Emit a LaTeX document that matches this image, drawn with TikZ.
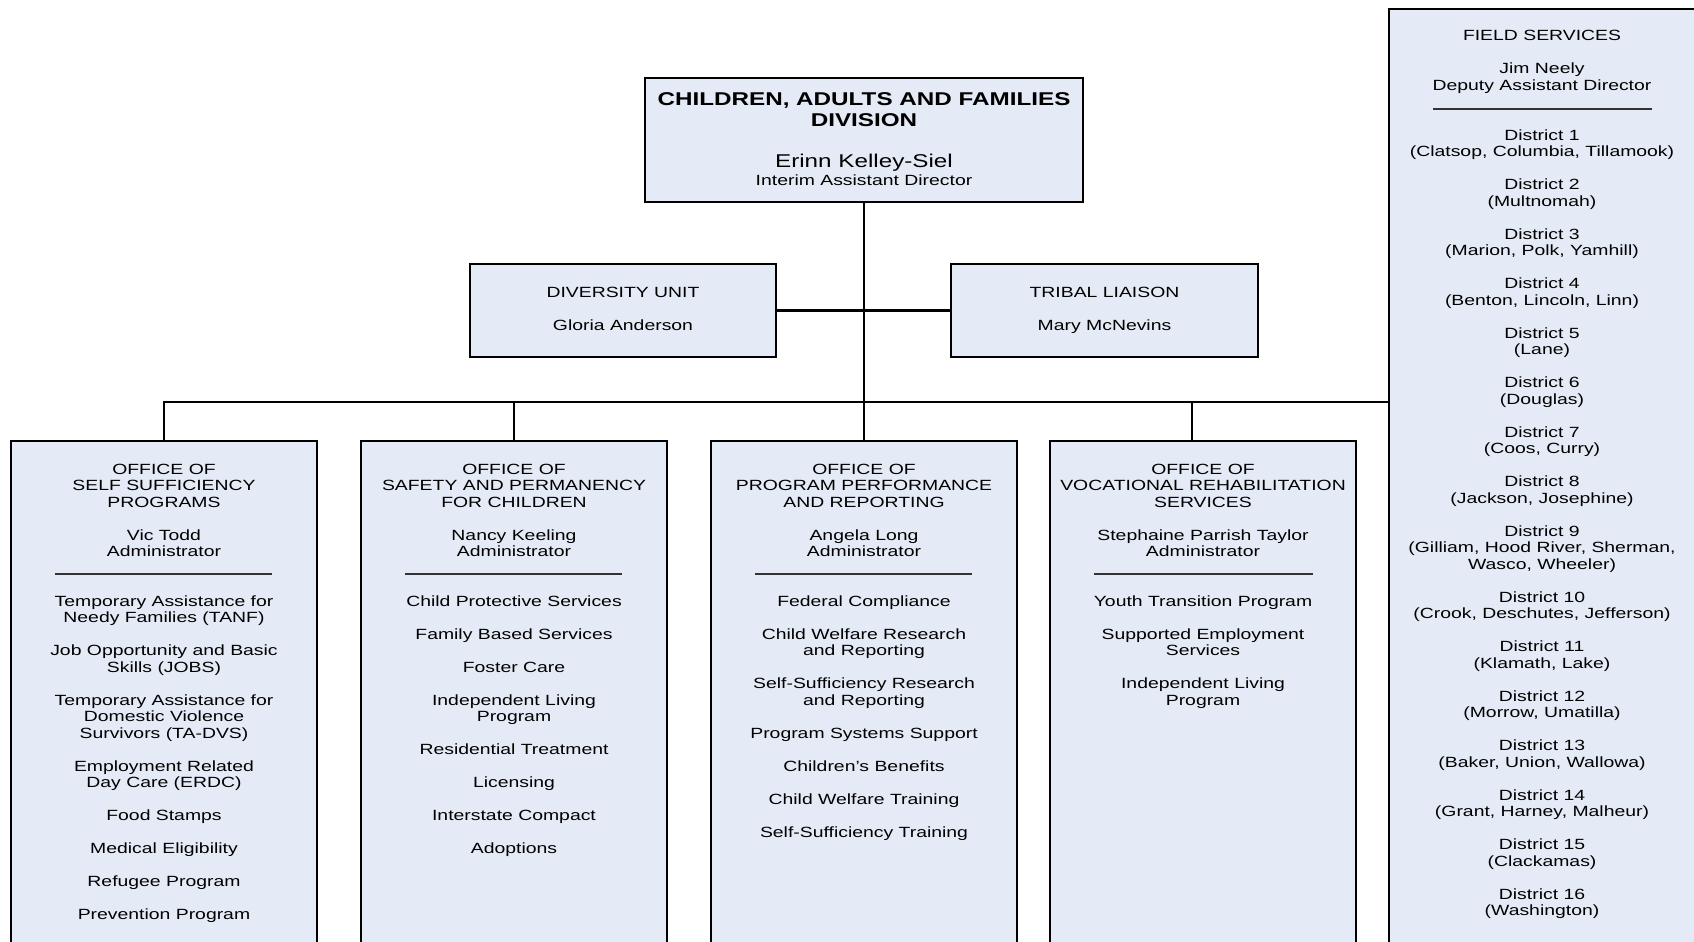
\documentclass[tikz,border=0pt]{standalone}
\usepackage{fontspec}
\setmainfont{Liberation Sans}[FakeStretch=1.31]
\definecolor{boxfill}{RGB}{229,235,246}
\newcommand\tb[1]{\begin{tabular}[t]{@{}c@{}}#1\end{tabular}}
\tikzset{
  orgbox/.style={draw=black, line width=2.8pt, fill=boxfill, rectangle, inner sep=0pt},
  txt/.style={anchor=base, inner sep=0pt, font=\fontsize{14.8}{16.5}\selectfont},
  bigtxt/.style={anchor=base, inner sep=0pt, font=\fontsize{18.5}{21}\selectfont},
  link/.style={line width=2.8pt},
  rule/.style={line width=1.1pt, draw=black!80}
}
\begin{document}
\begin{tikzpicture}[x=1pt,y=-1pt]
\useasboundingbox (0,0) rectangle (1694,942);
\clip (0,0) rectangle (1694,942);

% boxes
\node[orgbox, minimum width=438pt, minimum height=124pt] (top) at (864,140) {};
\node[orgbox, minimum width=306pt, minimum height=93pt] (div) at (623,310.5) {};
\node[orgbox, minimum width=307pt, minimum height=93pt] (trib) at (1104.5,310.5) {};
\node[orgbox, minimum width=306pt, minimum height=529pt] (o1) at (164,705.5) {};
\node[orgbox, minimum width=306pt, minimum height=529pt] (o2) at (514,705.5) {};
\node[orgbox, minimum width=306pt, minimum height=529pt] (o3) at (864,705.5) {};
\node[orgbox, minimum width=306pt, minimum height=529pt] (o4) at (1203,705.5) {};
\node[orgbox, minimum width=311pt, minimum height=961pt] (field) at (1544.5,489.5) {};

% connectors
\coordinate (bar) at (864,402);
\draw[link, line width=2.4pt] (top.south) -- (o3.north);
\draw[link] (div.east) -- (trib.west);
\draw[link] (o1.north) -- (o1.north |- bar) -- (field.west |- bar);
\draw[link] (o2.north) -- (o2.north |- bar);
\draw[link] ([xshift=-11pt]o4.north) -- ([xshift=-11pt]o4.north |- bar);

% top box text
\node[bigtxt, font=\bfseries\fontsize{18.5}{21}\selectfont] (ttl) at (864,105.5) {\tb{CHILDREN, ADULTS AND FAMILIES\\DIVISION}};
\node[bigtxt] (tname) at (864,167) {Erinn Kelley-Siel};
\node[txt] (trole) at (864,185) {Interim Assistant Director};

% diversity / tribal
\node[txt] (divt) at (623,297) {DIVERSITY UNIT};
\node[txt] (divn) at (623,330) {Gloria Anderson};
\node[txt] (tribt) at (1104.5,297) {TRIBAL LIAISON};
\node[txt] (tribn) at (1104.5,330) {Mary McNevins};

% office 1
\node[txt] (h1) at (164,474) {\tb{OFFICE OF\\SELF SUFFICIENCY\\PROGRAMS\\ \\Vic Todd\\Administrator}};
\draw[rule] (55,574) -- (272,574);
\node[txt] (l1) at (164,606) {\tb{Temporary Assistance for\\Needy Families (TANF)\\ \\Job Opportunity and Basic\\Skills (JOBS)\\ \\Temporary Assistance for\\Domestic Violence\\Survivors (TA-DVS)\\ \\Employment Related\\Day Care (ERDC)\\ \\Food Stamps\\ \\Medical Eligibility\\ \\Refugee Program\\ \\Prevention Program}};

% office 2
\node[txt] (h2) at (514,474) {\tb{OFFICE OF\\SAFETY AND PERMANENCY\\FOR CHILDREN\\ \\Nancy Keeling\\Administrator}};
\draw[rule] (405,574) -- (622,574);
\node[txt] (l2) at (514,606) {\tb{Child Protective Services\\ \\Family Based Services\\ \\Foster Care\\ \\Independent Living\\Program\\ \\Residential Treatment\\ \\Licensing\\ \\Interstate Compact\\ \\Adoptions}};

% office 3
\node[txt] (h3) at (864,474) {\tb{OFFICE OF\\PROGRAM PERFORMANCE\\AND REPORTING\\ \\Angela Long\\Administrator}};
\draw[rule] (755,574) -- (972,574);
\node[txt] (l3) at (864,606) {\tb{Federal Compliance\\ \\Child Welfare Research\\and Reporting\\ \\Self-Sufficiency Research\\and Reporting\\ \\Program Systems Support\\ \\Children’s Benefits\\ \\Child Welfare Training\\ \\Self-Sufficiency Training}};

% office 4
\node[txt] (h4) at (1203,474) {\tb{OFFICE OF\\VOCATIONAL REHABILITATION\\SERVICES\\ \\Stephaine Parrish Taylor\\Administrator}};
\draw[rule] (1094,574) -- (1313,574);
\node[txt] (l4) at (1203,606) {\tb{Youth Transition Program\\ \\Supported Employment\\Services\\ \\Independent Living\\Program}};

% field services
\node[txt] (fh) at (1542,41) {\tb{FIELD SERVICES\\ \\Jim Neely\\Deputy Assistant Director}};
\draw[rule] (1433,109) -- (1652,109);
\node[txt] (fd) at (1542,140) {\tb{District 1\\(Clatsop, Columbia, Tillamook)\\ \\District 2\\(Multnomah)\\ \\District 3\\(Marion, Polk, Yamhill)\\ \\District 4\\(Benton, Lincoln, Linn)\\ \\District 5\\(Lane)\\ \\District 6\\(Douglas)\\ \\District 7\\(Coos, Curry)\\ \\District 8\\(Jackson, Josephine)\\ \\District 9\\(Gilliam, Hood River, Sherman,\\Wasco, Wheeler)\\ \\District 10\\(Crook, Deschutes, Jefferson)\\ \\District 11\\(Klamath, Lake)\\ \\District 12\\(Morrow, Umatilla)\\ \\District 13\\(Baker, Union, Wallowa)\\ \\District 14\\(Grant, Harney, Malheur)\\ \\District 15\\(Clackamas)\\ \\District 16\\(Washington)}};
\end{tikzpicture}
\end{document}
